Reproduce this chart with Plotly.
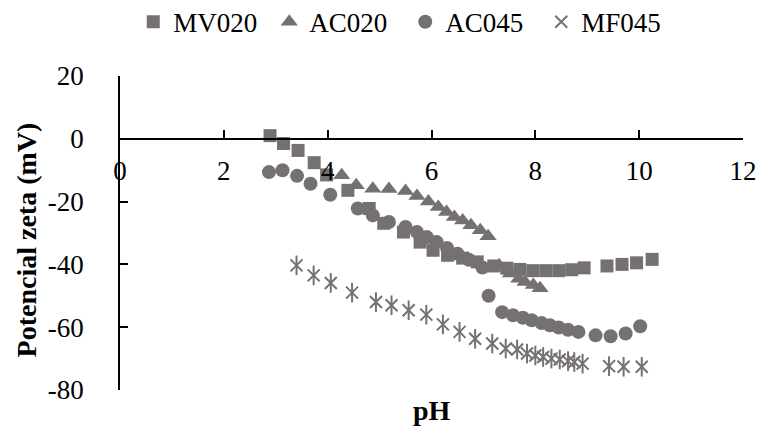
import plotly.graph_objects as go

# Zeta potential vs pH for four samples
mv020_ph = [2.89, 3.15, 3.43, 3.74, 3.98, 4.39, 4.80, 5.08, 5.46, 5.78, 6.03, 6.31, 6.60,
            6.88, 7.20, 7.45, 7.70, 7.95, 8.20, 8.45, 8.70, 8.94, 9.38, 9.67, 9.95, 10.25]
mv020_zeta = [1.0, -1.5, -3.7, -7.6, -11.5, -16.4, -22.2, -26.9, -29.7, -32.9, -35.5, -37.1, -38.0,
              -39.2, -40.5, -41.2, -41.6, -42.0, -42.0, -42.0, -41.7, -41.1, -40.5, -40.0, -39.5, -38.4]

ac020_ph = [4.27, 4.55, 4.87, 5.18, 5.50, 5.72, 5.94, 6.13, 6.29, 6.44, 6.60, 6.76, 6.94, 7.09,
            7.30, 7.52, 7.68, 7.80, 7.96, 8.09]
ac020_zeta = [-11.6, -14.8, -15.9, -16.0, -16.6, -18.2, -20.0, -21.7, -23.3, -24.9, -26.0, -27.5,
              -29.1, -31.0, -40.3, -42.9, -44.6, -45.6, -46.6, -47.6]

ac045_ph = [2.87, 3.13, 3.41, 3.67, 4.05, 4.58, 4.87, 5.18, 5.50, 5.72, 5.91, 6.10, 6.30, 6.50,
            6.72, 6.98, 7.10, 7.36, 7.57, 7.76, 7.93, 8.12, 8.28, 8.45, 8.63, 8.83, 9.16, 9.45,
            9.74, 10.02]
ac045_zeta = [-10.6, -10.0, -11.8, -14.3, -17.8, -22.2, -24.4, -26.5, -28.1, -29.7, -31.3, -32.9,
              -34.8, -36.6, -38.5, -41.0, -50.0, -55.2, -56.2, -57.0, -57.8, -58.7, -59.4, -60.1,
              -60.8, -61.5, -62.6, -62.9, -62.0, -59.7]

mf045_ph = [3.40, 3.73, 4.06, 4.47, 4.93, 5.23, 5.56, 5.90, 6.22, 6.54, 6.84, 7.17, 7.43, 7.65,
            7.84, 8.00, 8.15, 8.31, 8.47, 8.63, 8.75, 8.91, 9.42, 9.70, 10.05]
mf045_zeta = [-40.3, -43.5, -45.9, -49.0, -52.0, -53.0, -54.6, -56.0, -59.1, -61.5, -63.7, -65.2,
              -66.8, -67.1, -68.4, -69.0, -69.5, -70.0, -70.3, -70.8, -71.1, -71.6, -72.4, -72.6, -72.6]

x_ticks = [0, 2, 4, 6, 8, 10, 12]
y_ticks = [20, 0, -20, -40, -60, -80]

GREY = "#767171"
FONT = "Liberation Serif"
FS = 27

fig = go.Figure()
fig.add_trace(go.Scatter(x=mv020_ph, y=mv020_zeta, name="MV020", mode="markers",
                         marker=dict(symbol="square", size=13, color=GREY)))
fig.add_trace(go.Scatter(x=ac020_ph, y=ac020_zeta, name="AC020", mode="markers",
                         marker=dict(symbol="triangle-up", size=15, color=GREY)))
fig.add_trace(go.Scatter(x=ac045_ph, y=ac045_zeta, name="AC045", mode="markers",
                         marker=dict(symbol="circle", size=14, color=GREY)))
# asterisk made of an X plus a vertical stroke
fig.add_trace(go.Scatter(x=mf045_ph, y=mf045_zeta, name="MF045", mode="markers",
                         legendgroup="mf",
                         marker=dict(symbol="x-thin-open", size=12, color=GREY,
                                     line=dict(color=GREY, width=2))))
fig.add_trace(go.Scatter(x=mf045_ph, y=mf045_zeta, name="MF045", mode="markers",
                         legendgroup="mf", showlegend=False,
                         marker=dict(symbol="line-ns-open", size=14, color=GREY,
                                     line=dict(color=GREY, width=2))))

fig.update_layout(
    width=769, height=426,
    margin=dict(l=120, r=16, t=76, b=36),
    paper_bgcolor="white", plot_bgcolor="white",
    font=dict(family=FONT, size=FS, color="black"),
    showlegend=True,
    legend=dict(orientation="h", xref="container", yref="container",
                x=0.527, xanchor="center", y=0.948, yanchor="middle",
                font=dict(family=FONT, size=FS), itemwidth=30,
                entrywidth=91, entrywidthmode="pixels",
                bgcolor="rgba(0,0,0,0)"),
    xaxis=dict(range=[0, 12], tickvals=x_ticks, ticktext=[str(v) for v in x_ticks],
               showgrid=False, zeroline=False, showline=True, linecolor="black",
               linewidth=1.5, ticks="inside", ticklen=8, tickwidth=1.5, tickcolor="black",
               anchor="free", position=0.8, ticklabelstandoff=8),
    yaxis=dict(range=[-80, 20], tickvals=y_ticks, ticktext=[str(v) for v in y_ticks],
               showgrid=False, zeroline=False, showline=True, linecolor="black",
               linewidth=1.5, ticks="inside", ticklen=8, tickwidth=1.5, tickcolor="black",
               ticklabelstandoff=29),
    annotations=[
        dict(text="<b>pH</b>", xref="paper", yref="paper", x=0.5, y=-0.065,
             xanchor="center", yanchor="middle", showarrow=False,
             font=dict(family=FONT, size=28)),
        dict(text="<b>Potencial zeta (mV)</b>", xref="paper", yref="paper", x=-0.15, y=0.478,
             xanchor="center", yanchor="middle", textangle=-90, showarrow=False,
             font=dict(family=FONT, size=28)),
    ],
)

fig.write_html("out.html")
